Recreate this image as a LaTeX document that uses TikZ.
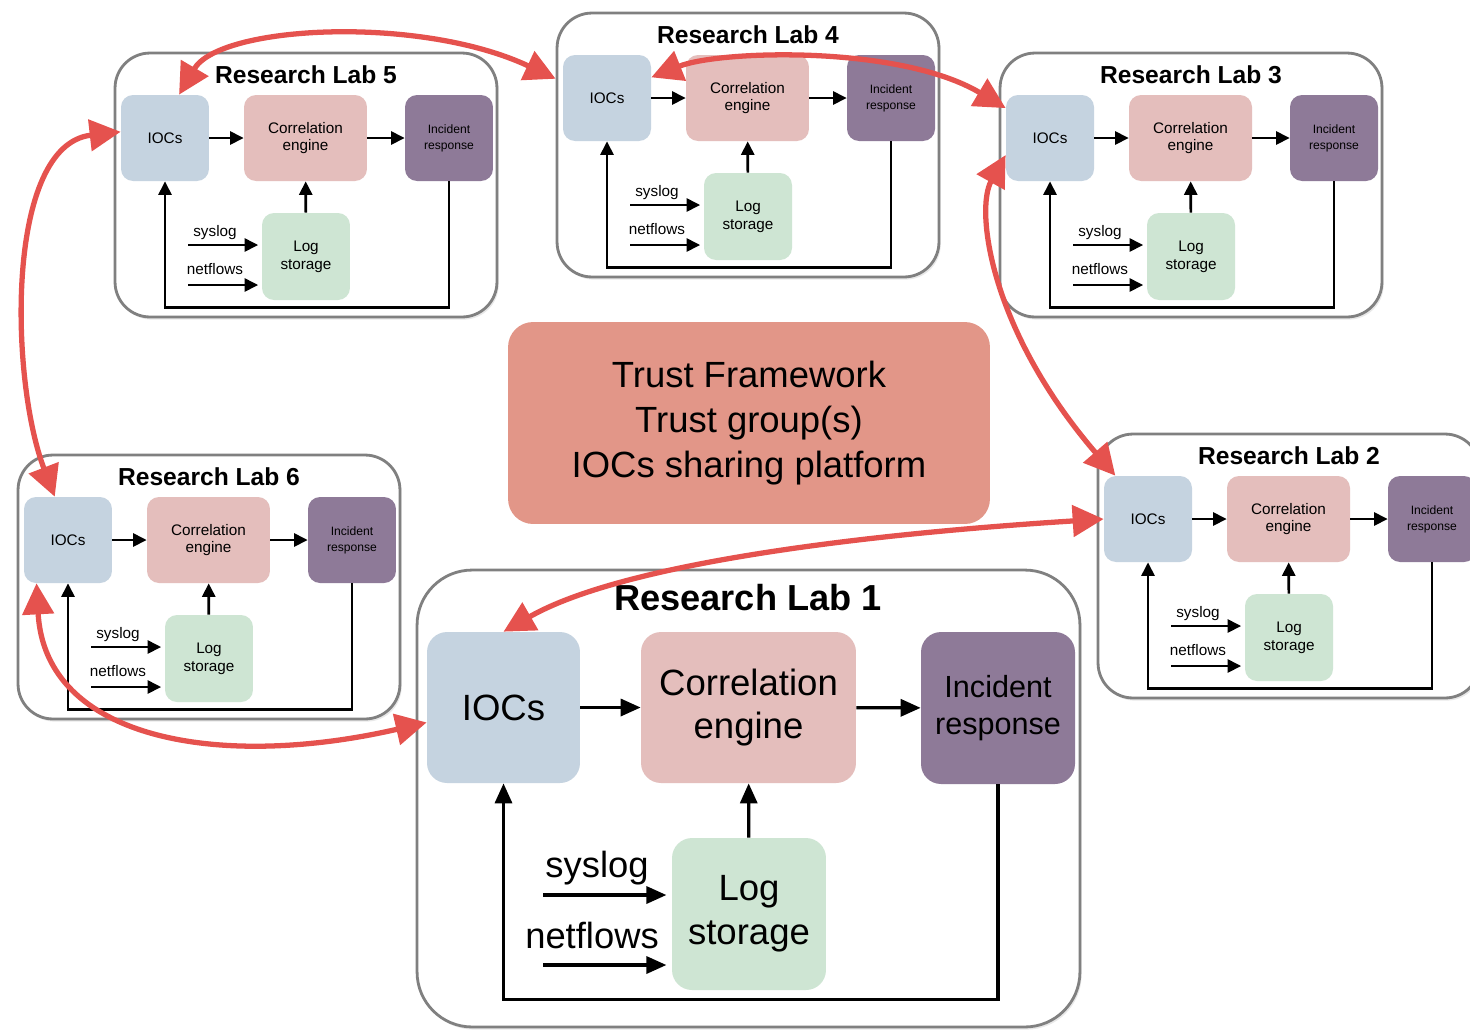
\documentclass[tikz,border=0pt]{standalone}
\usepackage{fontspec}
\setmainfont{Liberation Sans}
\usetikzlibrary{arrows.meta,calc,shadows}
\definecolor{iocblue} {RGB}{197,211,224}
\definecolor{corpink} {RGB}{228,190,188}
\definecolor{irpurp}  {RGB}{142,122,152}
\definecolor{loggrn}  {RGB}{206,229,211}
\definecolor{trustred}{RGB}{226,150,136}
\definecolor{linkred} {RGB}{229, 82, 78}
\definecolor{labgray} {RGB}{128,128,128}
\tikzset{
  % lab frame
  labbox/.style={rectangle,rounded corners=#1,draw=labgray,fill=white,
                 line width=1.6pt,inner sep=0pt,
                 drop shadow={opacity=0.18,shadow xshift=1pt,shadow yshift=-1.5pt}},
  labbox/.default=0.7cm,
  ttl/.style={font=\fontsize{14}{16}\selectfont\bfseries,inner sep=0pt},
  % small blocks
  blk/.style={rectangle,rounded corners=0.24cm,inner sep=0pt,align=center,
              minimum width=1.76cm,minimum height=1.72cm,
              font=\fontsize{8.7}{10.2}\selectfont},
  IB/.style={blk,fill=iocblue},
  CB/.style={blk,fill=corpink,minimum width=2.46cm},
  RB/.style={blk,fill=irpurp,font=\fontsize{6.9}{9}\selectfont},
  LB/.style={blk,fill=loggrn,minimum height=1.74cm},
  lbl/.style={font=\fontsize{8.7}{10.2}\selectfont,inner sep=0pt},
  % big blocks (lab 1)
  big/.style={rounded corners=0.4cm,minimum width=3.06cm,minimum height=3.02cm,
              font=\fontsize{20.8}{25}\selectfont},
  biglbl/.style={font=\fontsize{20.7}{25}\selectfont,inner sep=0pt},
  % arrows
  Arr/.style ={-{Triangle[length=0.27cm,width=0.26cm]},line width=1.5pt},
  BArr/.style={-{Triangle[length=0.4cm,width=0.34cm]},line width=1.9pt},
  RArr/.style={{Triangle[length=0.62cm,width=0.62cm]}-{Triangle[length=0.62cm,width=0.62cm]},
               line width=3pt,draw=linkred},
}
\begin{document}
\begin{tikzpicture}[x=0.02cm,y=-0.02cm]
  \useasboundingbox (0,0) rectangle (1470,1029);

  % five small labs, all laid out as lab 5
  \foreach \n/\dx/\dy in {5/0/0,4/442/-40,3/885/0,2/983/381,6/-97/402}{
    \begin{scope}[shift={(\dx,\dy)}]
      \node[labbox,minimum width=7.64cm,minimum height=5.28cm] (lab\n) at (306,185) {};
      \node[ttl] (ttl\n) at (306,75) {Research Lab \n};
      \node[IB] (ioc\n) at (165,138) {IOCs};
      \node[CB] (cor\n) at (305.5,138) {Correlation\\engine};
      \node[RB] (ir\n)  at (449,138) {Incident\\response};
      \node[LB] (log\n) at (306,256.5) {Log\\storage};
      \node[lbl] (sys\n) at (215,233) {syslog};
      \node[lbl] (net\n) at (215,269) {netflows};
      \coordinate (sa\n) at (188,245);
      \coordinate (na\n) at (188,285);
      \draw[Arr] (ioc\n) -- (cor\n);
      \draw[Arr] (cor\n) -- (ir\n);
      \draw[Arr] (log\n) -- (cor\n);
      \draw[Arr,shorten >=2pt] (sa\n) -- (sa\n -| log\n.west);
      \draw[Arr,shorten >=2pt] (na\n) -- (na\n -| log\n.west);
      \draw[Arr] (ir\n.south) -- ++(0,126) -| (ioc\n.south);
    \end{scope}
  }

  % lab 1
  \node[labbox=1.1cm,minimum width=13.26cm,minimum height=9.14cm] (lab1) at (748.5,798.5) {};
  \node[ttl,font=\fontsize{20.6}{24}\selectfont\bfseries] (ttl1) at (748,598) {Research Lab 1};
  \node[IB,big] (ioc1) at (503.5,707.5) {IOCs};
  \node[CB,big,minimum width=4.3cm] (cor1) at (748.5,707.5) {Correlation\\engine};
  \node[RB,big,minimum width=3.08cm,minimum height=3.04cm,
        font=\fontsize{17.4}{21.5}\selectfont] (ir1) at (998,708) {Incident\\response};
  \node[LB,big,minimum width=3.08cm,minimum height=3.04cm] (log1) at (749,914) {Log\\storage};
  \node[biglbl] (sys1) at (597,868) {syslog};
  \node[biglbl] (net1) at (592,935) {netflows};
  \coordinate (sa1) at (543,895);
  \coordinate (na1) at (543,965);
  \draw[BArr] (ioc1) -- (cor1);
  \draw[BArr] (cor1) -- (ir1);
  \draw[BArr] (log1) -- (cor1);
  \draw[BArr,shorten >=3pt] (sa1) -- (sa1 -| log1.west);
  \draw[BArr,shorten >=3pt] (na1) -- (na1 -| log1.west);
  \draw[BArr] (ir1.south) -- ++(0,215) -| (ioc1.south);

  % trust framework
  \node[rectangle,rounded corners=0.5cm,fill=trustred,minimum width=9.64cm,
        minimum height=4.04cm,align=center,font=\fontsize{20.75}{25.5}\selectfont]
        (trust) at (749,423) {Trust Framework\\Trust group(s)\\IOCs sharing platform};

  % sharing links
  \draw[RArr] (ioc5.72) .. controls (220,25) and (420,15) .. (lab4.161);
  \draw[RArr] (ioc4.25) .. controls (720,50) and (900,45) .. (ioc3.146);
  \draw[RArr] (ioc5.172) .. controls (5,145) and (10,380) .. (ioc6.107);
  \draw[RArr] (ioc3.201) .. controls (975,210) and (990,330) .. (ioc2.127);
  \draw[RArr] (ioc2.west) .. controls (850,535) and (620,565) .. (ioc1.north);
  \draw[RArr] (ioc6.234) .. controls (45,740) and (220,770) .. (ioc1.191);
\end{tikzpicture}
\end{document}
